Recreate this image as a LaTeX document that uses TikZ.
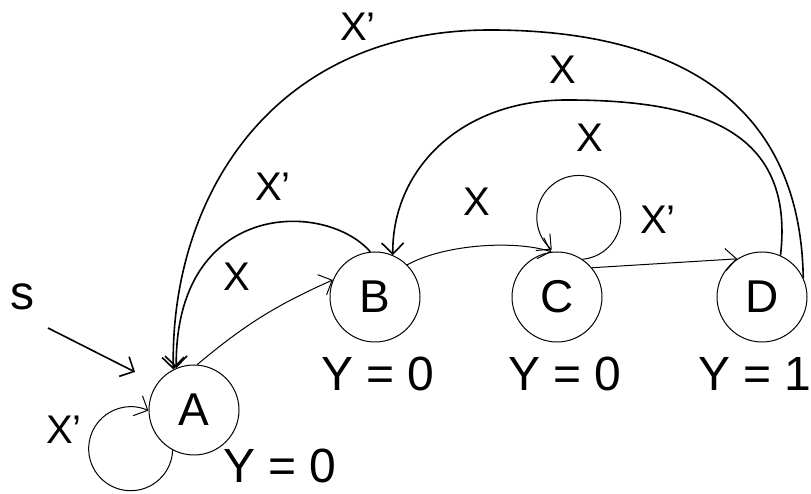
\documentclass[tikz,border=0pt]{standalone}
\usepackage{fontspec}
\setmainfont{Liberation Sans}
\usetikzlibrary{arrows.meta}
\begin{document}
\begin{tikzpicture}[x=1pt,y=1pt,>={Straight Barb[length=11pt,width=22pt]},stnode/.style={draw,circle,line width=1pt,minimum size=90pt,inner sep=0pt,font=\fontsize{46}{48}\selectfont},lbl/.style={inner sep=0pt,font=\fontsize{40}{42}\selectfont},outp/.style={inner sep=0pt,font=\fontsize{48}{50}\selectfont},bigarc/.style={line width=1.6pt},wire/.style={line width=1pt}]
\useasboundingbox(0,0)rectangle(811,494);
\node[stnode](A)at(194,84){A};\node[stnode](B)at(375,197){B};\node[stnode](C)at(557,197){C};\node[stnode](D)at(762,197){D};
\foreach\n/\x/\y/\t in{yA/280/28/0,yB/378/120/0,yC/565/120/0,yD/755/120/1}{\node[outp](\n)at(\x,\y){Y = \t};}
\foreach\n/\x/\y/\t in{lDA/358/467/X’,lBA/273/307/X’,lAB/237/217/X,lBC/477/292/X,lDB/563/424/X,lCD/590/356/X,lCC/658/274/X’,lAA/64/64/X’}{\node[lbl](\n)at(\x,\y){\t};}
\node[outp](s)at(22,197){s};\coordinate(s0)at(48,166);\coordinate(s1)at(135,122);
\draw[->,bigarc](s0)--(s1);
\draw[->,bigarc](D.25)..controls(800,404)and(660,464)..(490,464)..controls(270,464)and(170,294)..(A.117);
\draw[->,bigarc](D.66)..controls(795,364)and(700,394)..(567,394)..controls(460,394)and(392,324)..(B.67);
\draw[->,bigarc](B.96)..controls(325,294)and(175,294)..(A.113);
\draw[->,wire](A.86)to[bend left=8](B.158);\draw[->,wire](B.45)..controls(445,250)and(515,254)..(C.97);\draw[->,wire](C.40)--(D.123);
\draw[->,wire](C.56)arc[start angle=-85,end angle=230,radius=42];\draw[->,wire](A.242)arc[start angle=-2,end angle=-295,radius=42];
\end{tikzpicture}
\end{document}
